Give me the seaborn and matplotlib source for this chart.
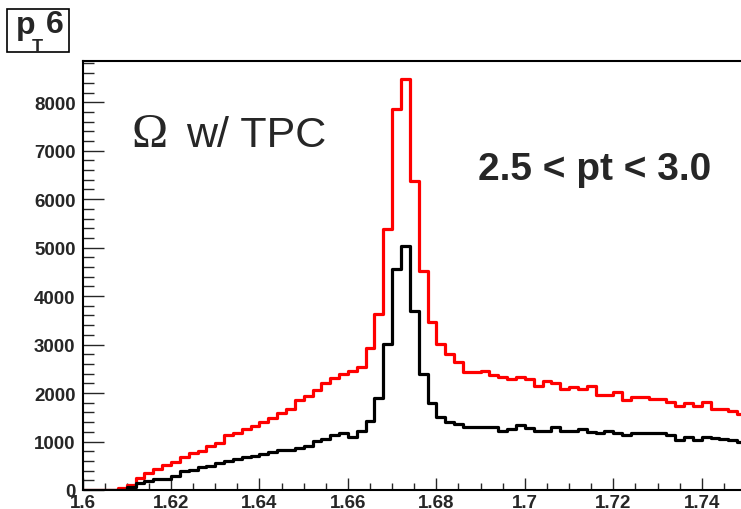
import numpy as np
import pandas as pd
import matplotlib
matplotlib.use("Agg")
import matplotlib.pyplot as plt
from matplotlib.ticker import MultipleLocator, FuncFormatter
from matplotlib.patches import Rectangle
import seaborn as sns

# ---- data (counts per 0.002 bin, from 1.600 to 1.750) ----
bin_low = 1.600
bin_width = 0.002
red_counts = [
    0, 0, 0, 0, 45, 100, 250, 350, 440, 520,
    580, 690, 765, 810, 900, 970, 1125, 1180, 1250, 1315,
    1410, 1480, 1585, 1680, 1850, 1935, 2060, 2200, 2310, 2400,
    2460, 2540, 2920, 3630, 5390, 7850, 8480, 6370, 4525, 3465,
    3005, 2805, 2635, 2430, 2430, 2465, 2370, 2325, 2290, 2340,
    2290, 2155, 2255, 2205, 2085, 2135, 2085, 2140, 1960, 1960,
    2015, 1865, 1925, 1925, 1885, 1885, 1820, 1740, 1795, 1740,
    1810, 1670, 1670, 1625, 1565,
]
black_counts = [
    0, 0, 0, 0, 0, 60, 140, 190, 225, 230,
    295, 385, 420, 465, 500, 555, 605, 640, 675, 705,
    740, 790, 820, 830, 860, 915, 1005, 1050, 1135, 1175,
    1085, 1225, 1430, 1890, 3010, 4560, 5030, 3690, 2390, 1800,
    1505, 1410, 1360, 1290, 1290, 1290, 1290, 1210, 1265, 1340,
    1285, 1215, 1215, 1295, 1215, 1215, 1250, 1200, 1170, 1220,
    1185, 1125, 1185, 1185, 1185, 1185, 1125, 1040, 1085, 1035,
    1085, 1080, 1045, 1040, 995,
]
x_ticks = [1.6, 1.62, 1.64, 1.66, 1.68, 1.7, 1.72, 1.74]
y_ticks = [0, 1000, 2000, 3000, 4000, 5000, 6000, 7000, 8000]
x_range = (1.6, 1.75)
y_max = 8850

nb = len(red_counts)
bin_hi = bin_low + bin_width * nb
centers = bin_low + bin_width * (np.arange(nb) + 0.5)
df = pd.DataFrame({"mass": np.concatenate([centers, centers]),
                   "counts": red_counts + black_counts,
                   "set": ["red"] * nb + ["black"] * nb})

sns.set_style("ticks")
plt.rcParams["font.family"] = ["Liberation Sans", "DejaVu Sans"]

W, H = 741, 510
fig = plt.figure(figsize=(W / 100, H / 100), dpi=100)
fig.patch.set_facecolor("white")

def fx(x):
    return x / W

def fy(y):
    return 1 - y / H

ax = fig.add_axes([fx(82.5), fy(491), (746 - 82.5) / W, (491 - 62) / H])

sns.histplot(data=df[df["set"] == "red"], x="mass", weights="counts",
             bins=nb, binrange=(bin_low, bin_hi),
             element="step", fill=False, color="#ff0000", linewidth=2.3, ax=ax)
sns.histplot(data=df[df["set"] == "black"], x="mass", weights="counts",
             bins=nb, binrange=(bin_low, bin_hi),
             element="step", fill=False, color="#000000", linewidth=2.3, ax=ax)

ax.set_xlim(*x_range)
ax.set_ylim(0, y_max)
ax.set_xlabel("")
ax.set_ylabel("")
for s in ax.spines.values():
    s.set_linewidth(1.5)
    s.set_color("black")

ax.xaxis.set_minor_locator(MultipleLocator(0.005))
ax.yaxis.set_minor_locator(MultipleLocator(200))
ax.set_xticks(x_ticks)
ax.set_yticks(y_ticks)
ax.xaxis.set_major_formatter(FuncFormatter(lambda v, p: f"{v:g}"))
ax.yaxis.set_major_formatter(FuncFormatter(lambda v, p: f"{v:g}"))

ax.tick_params(axis="y", which="major", direction="in", length=15, width=1.0, pad=5)
ax.tick_params(axis="y", which="minor", direction="in", length=8, width=1.0)
ax.tick_params(axis="x", which="major", direction="in", length=9, width=1.0, pad=3)
ax.tick_params(axis="x", which="minor", direction="in", length=5, width=1.0)

for lab in ax.get_xticklabels() + ax.get_yticklabels():
    lab.set_fontfamily(["Liberation Sans Narrow", "Liberation Sans"])
    lab.set_fontweight("bold")
    lab.set_fontsize(13.5)

# ---- annotations ----
fig.text(fx(132), fy(147), "Ω", family=["Liberation Serif", "DejaVu Serif"], fontsize=35, va="baseline")
fig.text(fx(186), fy(147), "w/ TPC", family=["Liberation Sans", "DejaVu Sans"], fontsize=31, va="baseline")
fig.text(fx(478), fy(180), "2.5 < pt < 3.0", family=["Liberation Sans", "DejaVu Sans"],
         fontsize=28, fontweight="bold", va="baseline")

# title box "p_T 6"
fig.patches.append(Rectangle((fx(7), fy(53)), (69 - 7) / W, (53 - 10) / H,
                             transform=fig.transFigure, fill=False, edgecolor="black",
                             linewidth=1.2))
fig.text(fx(16), fy(34), "p", fontsize=23, fontweight="bold", va="baseline")
fig.text(fx(32), fy(52), "T", fontsize=13, fontweight="bold", va="baseline")
fig.text(fx(46), fy(33), "6", fontsize=23, fontweight="bold", va="baseline")

fig.savefig("out.png", dpi=100)
